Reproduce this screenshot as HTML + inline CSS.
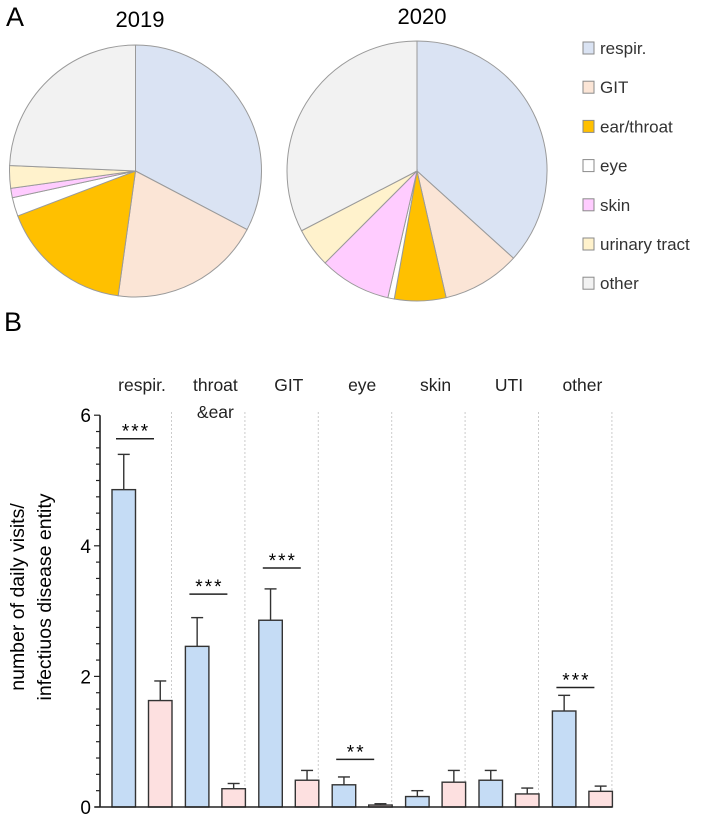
<!DOCTYPE html>
<html><head><meta charset="utf-8"><style>
body{margin:0;background:#fff;}
svg{display:block;font-family:"Liberation Sans",sans-serif;}
</style></head><body>
<svg id="s" width="709" height="817" viewBox="0 0 709 817">
<text x="6" y="26" font-size="27">A</text>
<text x="140" y="27" font-size="22" text-anchor="middle">2019</text>
<text x="422" y="24" font-size="22" text-anchor="middle">2020</text>
<text x="4" y="331" font-size="27">B</text>
<g id="pies"></g><g id="legend"></g><g id="bars"></g>
<text transform="translate(24,597) rotate(-90)" font-size="19.5" text-anchor="middle">number of daily visits/</text>
<text transform="translate(51,597) rotate(-90)" font-size="19.5" text-anchor="middle">infectiuos disease entity</text>
</svg>
<script>
const NS="http://www.w3.org/2000/svg";
const pieLabels=["respir.","GIT","ear/throat","eye","skin","urinary tract","other"];
const pieColors=["#dae3f3","#fbe5d6","#ffc000","#ffffff","#ffccff","#fff2cc","#f2f2f2"];
const pie2019=[32.7,19.5,17.0,2.4,1.2,2.9,24.3];
const pie2020=[36.7,9.7,6.4,0.8,8.9,4.9,32.6];
const categories=["respir.","throat","GIT","eye","skin","UTI","other"];
const vals2019=[4.86,2.46,2.86,0.34,0.16,0.41,1.47];
const err2019=[5.40,2.90,3.34,0.46,0.25,0.56,1.71];
const vals2020=[1.63,0.28,0.41,0.03,0.38,0.20,0.24];
const err2020=[1.93,0.36,0.56,0.05,0.56,0.29,0.32];
const sigLabels=["***","***","***","**","","","***"];
const sigY=[5.64,3.26,3.66,0.73,0,0,1.83];
const yTicks=[0,2,4,6];
function mk(t,a,p){const e=document.createElementNS(NS,t);for(const k in a)e.setAttribute(k,a[k]);(p||document.getElementById('s')).appendChild(e);return e;}
function drawPie(data,cx,cy,rx,ry,name){
  const g=document.getElementById('pies');
  const tot=data.reduce((a,b)=>a+b,0);let a0=0;
  data.forEach((v,i)=>{
    const a1=a0+v/tot*2*Math.PI;
    const x0=cx+rx*Math.sin(a0),y0=cy-ry*Math.cos(a0),x1=cx+rx*Math.sin(a1),y1=cy-ry*Math.cos(a1);
    const p=mk('path',{d:`M${cx},${cy}L${x0},${y0}A${rx},${ry} 0 ${a1-a0>Math.PI?1:0} 1 ${x1},${y1}Z`,fill:pieColors[i],stroke:'#9a9a9a','stroke-width':1},g);
    
    
    a0=a1;
  });
}
drawPie(pie2019,135.5,171,126,126,'pie-2019');
drawPie(pie2020,417,171,130,130,'pie-2020');
const lg=document.getElementById('legend');
pieLabels.forEach((l,i)=>{
  const y=48+i*39.2;
  const r=mk('rect',{x:583,y:y-6,width:11,height:12,fill:pieColors[i],stroke:'#8a8a8a'},lg);
  
  
  const t=mk('text',{x:600,y:y+6,'font-size':17,fill:'#333'},lg);t.textContent=l;
  
  
});
const y0=807,ppu=65.3,ax=100,pitch=73.4,bw=23.5,firstX=112;
const Y=v=>y0-v*ppu;
const bg=document.getElementById('bars');
for(let i=0;i<7;i++){const x=171.5+i*73.4;const l=mk('line',{x1:x,x2:x,y1:412,y2:y0,stroke:'#ccc','stroke-dasharray':'2,2'},bg);
}
categories.forEach((c,i)=>{
  const t=mk('text',{x:firstX+i*pitch+30,y:391,'font-size':17.5,'text-anchor':'middle',fill:'#222'},bg);t.textContent=c;
  
  if(c==="throat"){const t2=mk('text',{x:firstX+i*pitch+30,y:418,'font-size':17.5,'text-anchor':'middle',fill:'#222'},bg);t2.textContent="&ear";
  }
  [[vals2019,err2019,'#c5dcf5',0,'2019'],[vals2020,err2020,'#fde0e0',36.5,'2020']].forEach(([v,e,col,off,yr])=>{
    const x=firstX+i*pitch+off,xm=x+bw/2;
    const el=mk('line',{x1:xm,x2:xm,y1:Y(e[i]),y2:Y(v[i]),stroke:'#333','stroke-width':1.4},bg);
    
    const cap=mk('line',{x1:xm-6,x2:xm+6,y1:Y(e[i]),y2:Y(e[i]),stroke:'#333','stroke-width':1.4},bg);
    
    const r=mk('rect',{x:x,y:Y(v[i]),width:bw,height:v[i]*ppu,fill:col,stroke:'#333','stroke-width':1.4},bg);
    
  });
  if(sigLabels[i]){
    const x1=firstX+i*pitch+4,x2=x1+38,yy=Y(sigY[i]);
    const l=mk('line',{x1:x1,x2:x2,y1:yy,y2:yy,stroke:'#222','stroke-width':1.5},bg);
    
    const s=mk('text',{x:(x1+x2)/2+1,y:yy-1,'font-size':19,'text-anchor':'middle','letter-spacing':'2'},bg);s.textContent=sigLabels[i];
    
  }
});
const ya=mk('line',{x1:ax,x2:ax,y1:Y(6),y2:y0,stroke:'#222','stroke-width':1.6},bg);

const xa=mk('line',{x1:ax-5,x2:612,y1:y0,y2:y0,stroke:'#222','stroke-width':1.6},bg);

for(let v=0;v<=6.001;v+=0.25){const mj=Math.abs(v-Math.round(v/2)*2)<1e-6;
  const t=mk('line',{x1:ax-(mj?6:4),x2:ax,y1:Y(v),y2:Y(v),stroke:'#222','stroke-width':1.2},bg);
  }
yTicks.forEach(v=>{const t=mk('text',{x:91,y:Y(v)+7,'font-size':19,'text-anchor':'end'},bg);t.textContent=v;
  });
</script>
</body></html>
